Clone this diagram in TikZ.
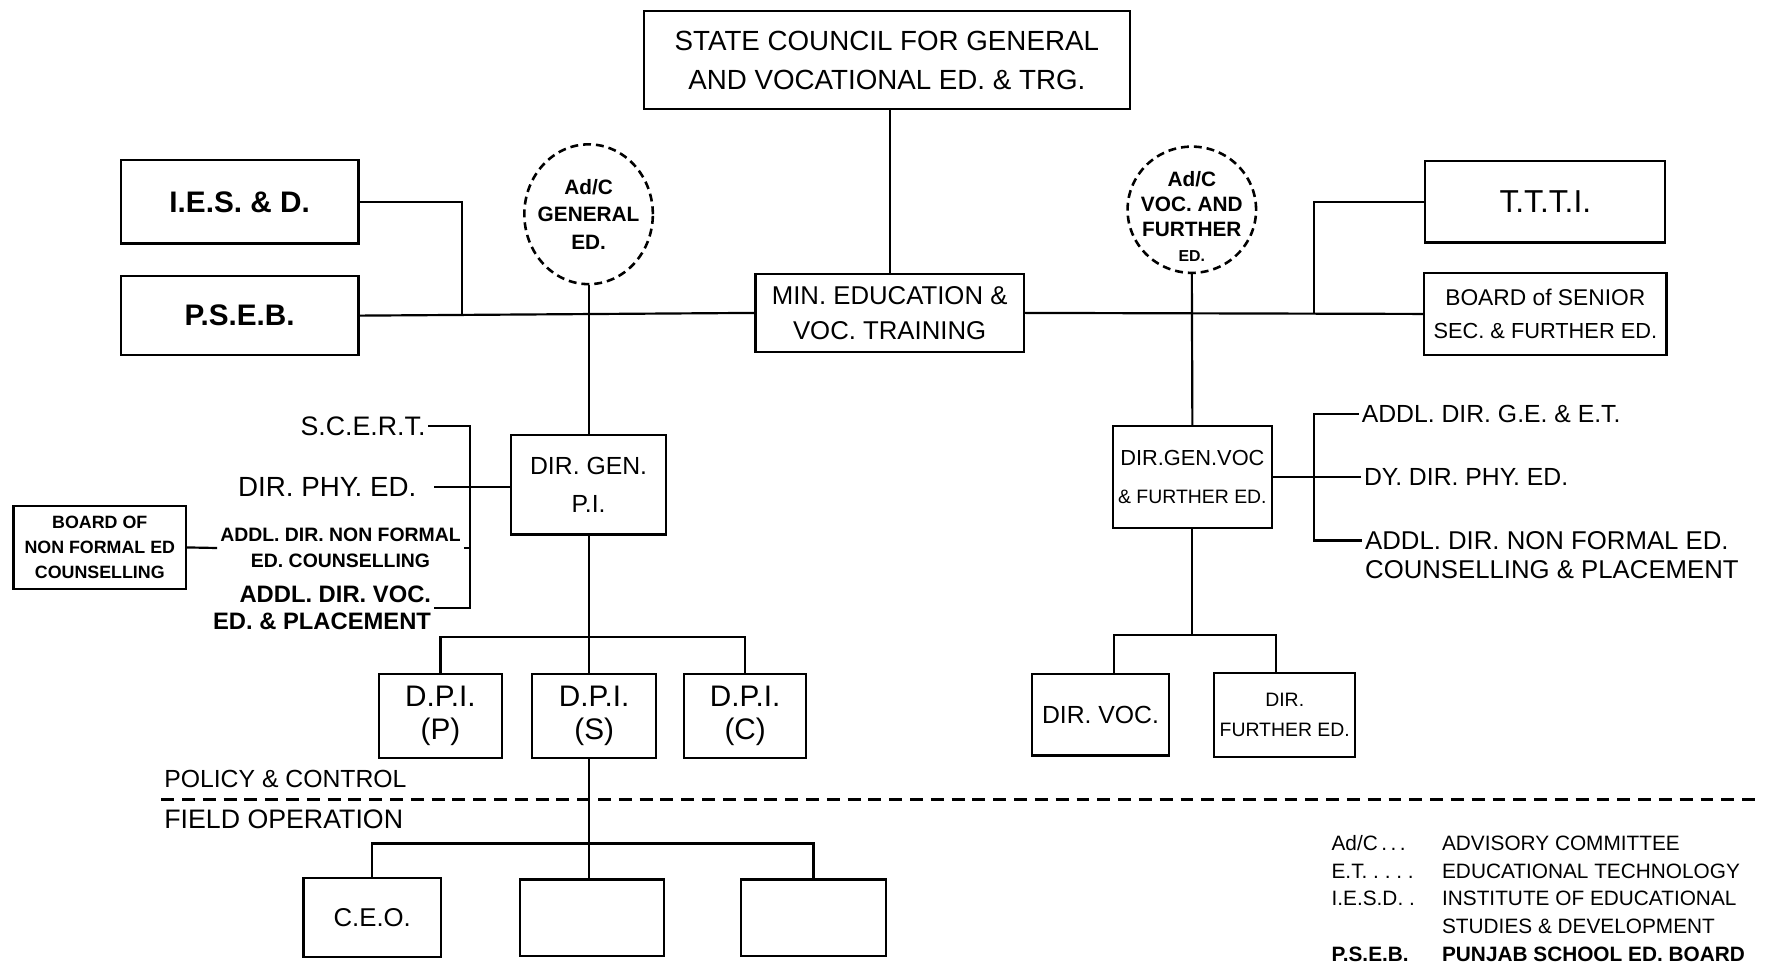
\documentclass[tikz,border=0pt]{standalone}
\usepackage{fontspec}
\setmainfont{Liberation Sans}
\usetikzlibrary{shapes.geometric,positioning}

\begin{document}
\begin{tikzpicture}[x=0.02cm,y=-0.02cm,line width=1.1pt,
    box/.style={draw,align=center,inner sep=0pt},
    adc/.style={draw,ellipse,line width=1.3pt,dash pattern=on 4pt off 2.5pt,inner sep=0pt,minimum width=2.28cm},
    txt/.style={align=center,inner sep=1pt}]
  \fill[white] (0,0) rectangle (1568,860);
  \useasboundingbox (0,0) rectangle (1568,860);

  \node[box,minimum width=8.62cm,minimum height=1.74cm,font=\fontsize{14}{20}\selectfont] (sc) at (786.5,53.5) {STATE COUNCIL FOR GENERAL\\AND VOCATIONAL ED. \& TRG.};
  \node[box,minimum width=4.76cm,minimum height=1.38cm,font=\fontsize{13}{17.6}\selectfont] (min) at (789,277.5) {MIN. EDUCATION \&\\VOC. TRAINING};

  \node[box,minimum width=4.22cm,minimum height=1.48cm,font=\bfseries\fontsize{15}{17}\selectfont] (ies) at (212.5,179) {I.E.S. \& D.};
  \node[box,minimum width=4.22cm,minimum height=1.40cm,font=\bfseries\fontsize{15}{17}\selectfont,below=0.54cm of ies] (pseb) {P.S.E.B.};
  \node[box,minimum width=4.26cm,minimum height=1.44cm,font=\fontsize{16}{18}\selectfont] (ttti) at (1370.5,179) {T.T.T.I.};
  \node[box,minimum width=4.30cm,minimum height=1.46cm,font=\fontsize{11.5}{16.5}\selectfont,below=0.5cm of ttti] (bss) {BOARD of SENIOR\\{\fontsize{11}{16.5}\selectfont SEC. \& FURTHER ED.}};

  \node[adc,minimum height=2.48cm] (adg) at (522,190) {};
  \node[txt,font=\bfseries\fontsize{10.5}{14}\selectfont] (adgt) at (adg) {Ad/C\\GENERAL\\ED.};
  \node[adc,minimum height=2.24cm] (adv) at (1057,186) {};
  \node[txt,font=\bfseries\fontsize{10.5}{12.5}\selectfont] (advt) at ([yshift=-0.12cm]adv) {Ad/C\\VOC. AND\\FURTHER\\{\fontsize{8}{8}\selectfont ED.}};

  \node[box,minimum width=2.76cm,minimum height=1.76cm,font=\fontsize{12.5}{18.8}\selectfont] (dg) at (522,430) {DIR. GEN.\\P.I.};
  \node[box,minimum width=2.82cm,minimum height=1.80cm,font=\fontsize{11}{19}\selectfont] (dgv) at (1057.5,423) {DIR.GEN.VOC\\{\fontsize{9.8}{19}\selectfont\& FURTHER ED.}};

  \node[txt,anchor=east,font=\fontsize{13.5}{16}\selectfont] (scert) at (380,378) {S.C.E.R.T.};
  \node[txt,anchor=east,font=\fontsize{14}{16}\selectfont] (dpe) at (372,432) {DIR. PHY. ED.};
  \node[txt,font=\bfseries\fontsize{9.8}{13}\selectfont] (anf) at (302,486) {ADDL. DIR. NON FORMAL\\ED. COUNSELLING};
  \node[txt,anchor=east,align=right,font=\bfseries\fontsize{12}{13.6}\selectfont] (avp) at (385,539) {ADDL. DIR. VOC.\\ED. \& PLACEMENT};
  \node[box,minimum width=3.06cm,minimum height=1.46cm,font=\bfseries\fontsize{9}{12.5}\selectfont] (bnf) at (88.5,485.5) {BOARD OF\\NON FORMAL ED\\COUNSELLING};

  \node[txt,anchor=west,font=\fontsize{12.5}{15}\selectfont] (age) at (1205,367) {ADDL. DIR. G.E. \& E.T.};
  \node[txt,anchor=west,font=\fontsize{12.5}{15}\selectfont] (ddp) at (1207,423) {DY. DIR. PHY. ED.};
  \node[txt,anchor=west,align=left,font=\fontsize{13}{14.7}\selectfont] (anfr) at (1208,492) {ADDL. DIR. NON FORMAL ED.\\COUNSELLING \& PLACEMENT};

  \node[box,minimum width=2.20cm,minimum height=1.48cm,font=\fontsize{15}{16.5}\selectfont] (dpis) at (527,635) {D.P.I.\\(S)};
  \node[box,minimum width=2.18cm,minimum height=1.48cm,font=\fontsize{15}{16.5}\selectfont,left=0.5cm of dpis] (dpip) {D.P.I.\\(P)};
  \node[box,minimum width=2.16cm,minimum height=1.48cm,font=\fontsize{15}{16.5}\selectfont,right=0.46cm of dpis] (dpic) {D.P.I.\\(C)};

  \node[box,minimum width=2.44cm,minimum height=1.44cm,font=\fontsize{12.5}{15}\selectfont] (dv) at (976,634) {DIR. VOC.};
  \node[box,minimum width=2.50cm,minimum height=1.48cm,font=\fontsize{9.8}{15.3}\selectfont,right=0.76cm of dv] (df) {DIR.\\FURTHER ED.};

  \node[txt,anchor=west,font=\fontsize{12.5}{15}\selectfont] (pol) at (143,691) {POLICY \& CONTROL};
  \node[txt,anchor=west,font=\fontsize{13.5}{15}\selectfont] (fld) at (143,727) {FIELD OPERATION};
  \draw[dash pattern=on 6.5pt off 4pt] (143,709) -- (1560,709);

  \node[box,minimum width=2.56cm,minimum height=1.36cm] (f2) at (525,814) {};
  \node[box,minimum width=2.44cm,minimum height=1.40cm,font=\fontsize{13}{15}\selectfont,left=1.36cm of f2] (ceo) {C.E.O.};
  \node[box,minimum width=2.58cm,minimum height=1.36cm,right=1.32cm of f2] (f3) {};

  \node[anchor=west,inner sep=0pt,font=\fontsize{10.5}{14.07}\selectfont] (leg) at (1180,798.5) {%
    \begin{tabular}{@{}p{1.96cm}@{}l@{}}
      Ad/C\,.\,.\,. & ADVISORY COMMITTEE\\
      E.T.\ .\ .\ .\ . & EDUCATIONAL TECHNOLOGY\\
      I.E.S.D.\ . & INSTITUTE OF EDUCATIONAL\\
       & STUDIES \& DEVELOPMENT\\
      \textbf{P.S.E.B.} & \textbf{PUNJAB SCHOOL ED. BOARD}
    \end{tabular}};

  \coordinate (j1) at (410,0);
  \coordinate (j2) at (1165,0);
  \coordinate (k) at (417,0);
  \coordinate (b1) at (522,565);
  \coordinate (b2) at (522,748);
  \coordinate (b3) at (1057,563);
  \coordinate (r3) at ([yshift=-0.22cm]anfr.north west);

  \draw (min.north |- sc.south) -- (min.north);
  \draw (pseb.east) -- (min.west);
  \draw (min.east) -- (bss.west);
  \draw (ies.east) -| (j1 |- pseb.east);
  \draw (ttti.west) -| (j2 |- bss.west);
  \draw (adg.south) -- (dg.north);
  \draw (adv.south) -- (dgv.north);

  \draw (scert.east) -| (k |- avp.east) -- (avp.east);
  \draw ([xshift=0.26cm]dpe.east) -- (dpe.east -| dg.west);
  \draw (anf.east) -- (anf.east -| k);
  \draw (bnf.east) -- (anf.west);

  \draw (dgv.east) -- (ddp.west);
  \draw (age.west) -| (j2 |- r3) -- (r3);

  \draw (dg.south) -- (dg.south |- dpis.north);
  \draw (dpip.north) |- (b1) -| (dpic.north);
  \draw (dg.south |- dpis.south) -- (dg.south |- f2.north);
  \draw (ceo.north) |- (b2) -| (f3.north);

  \draw (dgv.south) -- (dgv.south |- b3);
  \draw ([xshift=0.24cm]dv.north) |- (b3) -| ([xshift=-0.15cm]df.north);
\end{tikzpicture}
\end{document}
